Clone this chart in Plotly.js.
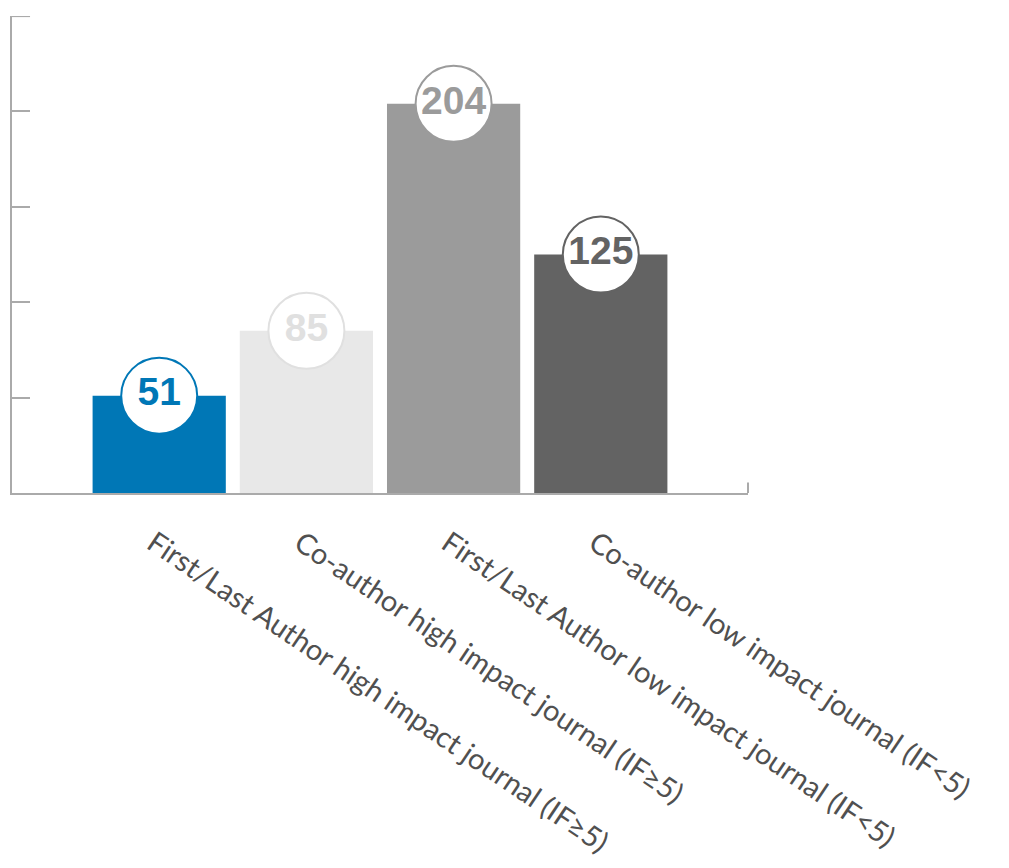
<!DOCTYPE html>
<html>
<head>
<meta charset="utf-8">
<script src="https://cdn.plot.ly/plotly-3.0.1.min.js"></script>
<style>html,body{margin:0;padding:0;background:#fff;}#chart{width:1009px;height:868px;}</style>
</head>
<body>
<div id="chart"></div>
<script>
var categories = [
  "First/Last Author high impact journal (IF≥5)",
  "Co-author high impact journal (IF≥5)",
  "First/Last Author low impact journal (IF<5)",
  "Co-author low impact journal (IF<5)"
];
var values = [51, 85, 204, 125];
var yMax = 250;
var barColors = ["#0077b6", "#e8e8e8", "#9b9b9b", "#636363"];
var labelColors = ["#0077b6", "#e0e0e0", "#9b9b9b", "#636363"];

var bars = {
  type: "bar",
  x: categories,
  y: values,
  marker: {color: barColors},
  hoverinfo: "none"
};
var bubbles = {
  type: "scatter",
  mode: "markers+text",
  x: categories,
  y: values,
  text: values.map(String),
  textposition: "middle center",
  textfont: {family: "Liberation Sans, Arial, sans-serif", size: 39, color: labelColors, weight: "bold"},
  marker: {symbol: "circle", size: 76, color: "#ffffff", line: {color: labelColors, width: 2}},
  cliponaxis: false,
  hoverinfo: "none"
};

var layout = {
  width: 1009, height: 868,
  margin: {l: 12, r: 261, t: 16, b: 375},
  paper_bgcolor: "#ffffff", plot_bgcolor: "#ffffff",
  showlegend: false,
  bargap: 0.095,
  xaxis: {
    type: "category",
    range: [-1, 4],
    showline: true, linecolor: "#aaaaaa", linewidth: 2,
    showgrid: false, zeroline: false,
    ticks: "",
    tickangle: 34,
    ticklabelstandoff: 20,
    ticklabelshift: -6,
    tickfont: {family: "Lato, Open Sans, sans-serif", size: 29, color: "#505050"}
  },
  yaxis: {
    range: [0, yMax + 0.05], dtick: 50, tick0: 0,
    showline: true, linecolor: "#aaaaaa", linewidth: 2,
    ticks: "inside", ticklen: 18, tickwidth: 2, tickcolor: "#aaaaaa",
    showticklabels: false, showgrid: false, zeroline: false
  },
  shapes: [{
    type: "line", xref: "paper", yref: "paper",
    x0: 1, x1: 1, y0: 0, y1: 0.022,
    line: {color: "#aaaaaa", width: 2}
  }, {
    type: "line", xref: "paper", yref: "y",
    x0: 0, x1: 0.0245, y0: yMax, y1: yMax,
    line: {color: "#aaaaaa", width: 2}
  }]
};

Plotly.newPlot("chart", [bars, bubbles], layout, {displayModeBar: false, staticPlot: true});
</script>
</body>
</html>
